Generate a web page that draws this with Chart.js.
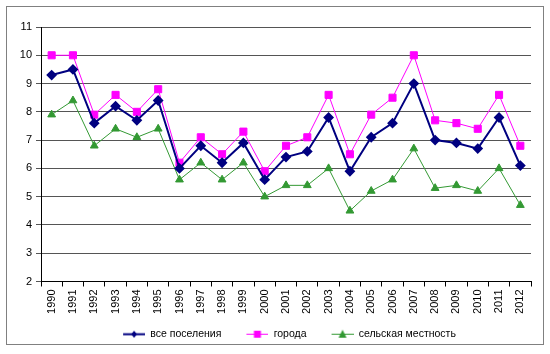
<!DOCTYPE html>
<html>
<head>
<meta charset="utf-8">
<script src="https://cdn.jsdelivr.net/npm/chart.js@4/dist/chart.umd.min.js"></script>
<style>
  body { margin: 0; background: #fff; }
  #wrap { position: relative; width: 550px; height: 354px; }
</style>
</head>
<body>
<div id="wrap"><canvas id="chart" width="550" height="354"></canvas></div>
<script>
const years = ['1990','1991','1992','1993','1994','1995','1996','1997','1998','1999','2000','2001',
  '2002','2003','2004','2005','2006','2007','2008','2009','2010','2011','2012'];
const allSettlements = [9.3, 9.5, 7.6, 8.2, 7.7, 8.4, 6.0, 6.8, 6.2, 6.9, 5.6, 6.4, 6.6, 7.8, 5.9, 7.1, 7.6, 9.0, 7.0, 6.9, 6.7, 7.8, 6.1];
const cities = [10.0, 10.0, 7.9, 8.6, 8.0, 8.8, 6.2, 7.1, 6.5, 7.3, 5.9, 6.8, 7.1, 8.6, 6.5, 7.9, 8.5, 10.0, 7.7, 7.6, 7.4, 8.6, 6.8];
const rural = [7.9, 8.4, 6.8, 7.4, 7.1, 7.4, 5.6, 6.2, 5.6, 6.2, 5.0, 5.4, 5.4, 6.0, 4.5, 5.2, 5.6, 6.7, 5.3, 5.4, 5.2, 6.0, 4.7];
const seriesNames = ['все поселения', 'города', 'сельская местность'];
const yTicks = { min: 2, max: 11, step: 1 };

// legend sample: line with marker in the middle, like Excel (10px empty on the left as spacing)
const ICON_W = 32;
function legendIcon(color, width, style) {
  const c = document.createElement('canvas');
  c.width = ICON_W; c.height = 10;
  const g = c.getContext('2d');
  g.strokeStyle = color; g.lineWidth = width;
  g.beginPath(); g.moveTo(10, 5.5); g.lineTo(32, 5.5); g.stroke();
  g.fillStyle = color;
  const cx = 21;
  g.beginPath();
  if (style === 'diamond') { g.moveTo(cx, 2); g.lineTo(cx + 3, 5.5); g.lineTo(cx, 9); g.lineTo(cx - 3, 5.5); }
  else if (style === 'square') { g.rect(cx - 3.5, 2, 7, 7); }
  else { g.moveTo(cx, 1); g.lineTo(cx + 4, 9); g.lineTo(cx - 4, 9); }
  g.closePath(); g.fill();
  return c;
}

const frame = {
  id: 'frame',
  beforeDraw(chart) {
    const ctx = chart.ctx;
    ctx.save();
    ctx.strokeStyle = '#808080';
    ctx.lineWidth = 1;
    ctx.strokeRect(6.5, 6.5, 537, 338);
    ctx.restore();
  }
};

// legend in the original sits under the middle of the plot, not the canvas
const legendShift = {
  id: 'legendShift',
  afterLayout(chart) {
    chart.legend.left += 15;
    chart.legend.right += 15;
  }
};

Chart.defaults.font.family = '"Liberation Sans", Arial, sans-serif';
Chart.defaults.font.size = 11;
Chart.defaults.color = '#000';

new Chart(document.getElementById('chart'), {
  type: 'line',
  data: {
    labels: years,
    datasets: [
      {
        label: seriesNames[0], data: allSettlements,
        borderColor: '#000080', backgroundColor: '#000080', borderWidth: 2,
        pointStyle: 'rectRot', pointRadius: 4, pointHoverRadius: 4,
        icon: legendIcon('#000080', 2, 'diamond')
      },
      {
        label: seriesNames[1], data: cities,
        borderColor: '#ff00ff', backgroundColor: '#ff00ff', borderWidth: 1,
        pointStyle: 'rect', pointRadius: 5, pointHoverRadius: 5,
        icon: legendIcon('#ff00ff', 1, 'square')
      },
      {
        label: seriesNames[2], data: rural,
        borderColor: '#339933', backgroundColor: '#339933', borderWidth: 1,
        pointStyle: 'triangle', pointRadius: 4.5, pointHoverRadius: 4.5,
        icon: legendIcon('#339933', 1, 'triangle')
      }
    ]
  },
  options: {
    responsive: false,
    animation: false,
    layout: { padding: { left: 8, right: 19, top: 27, bottom: 5 } },
    elements: { line: { tension: 0 } },
    scales: {
      x: {
        offset: true,
        grid: { offset: true, drawOnChartArea: false, drawTicks: true, tickLength: 5, color: '#000' },
        border: { color: '#000', width: 1 },
        ticks: { minRotation: 90, maxRotation: 90, autoSkip: false, padding: 3 },
        afterFit(scale) { scale.height = 32; }
      },
      y: {
        min: yTicks.min, max: yTicks.max,
        grid: { color: '#555', drawTicks: true, tickLength: 5 },
        border: { color: '#000', width: 1 },
        ticks: { stepSize: yTicks.step, padding: 4 },
        afterFit(scale) { scale.width = 33; }
      }
    },
    plugins: {
      legend: {
        position: 'bottom',
        labels: {
          usePointStyle: true,
          pointStyleWidth: ICON_W,
          padding: 15,
          font: { size: 10.5 },
          generateLabels(chart) {
            return chart.data.datasets.map((ds, i) => ({
              text: ds.label, pointStyle: ds.icon, fillStyle: ds.borderColor,
              strokeStyle: ds.borderColor, lineWidth: 0, hidden: false, datasetIndex: i
            }));
          }
        }
      },
      tooltip: { enabled: false }
    }
  },
  plugins: [frame, legendShift]
});
</script>
</body>
</html>
